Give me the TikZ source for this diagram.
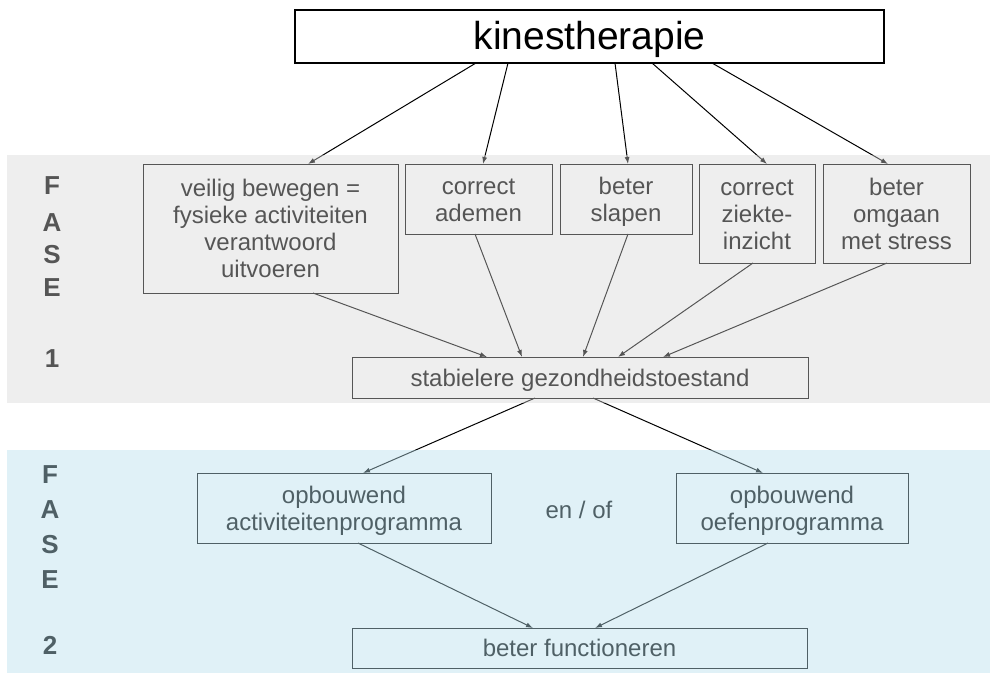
\documentclass[tikz,border=0pt]{standalone}
\usepackage{fontspec}
\setmainfont{Liberation Sans}
\usetikzlibrary{arrows.meta}
\definecolor{bandone}{rgb}{0.84,0.84,0.84}
\definecolor{bandtwo}{rgb}{0.72,0.88,0.93}
\newcommand\myst{\rule[-5pt]{0pt}{27pt}}
\newcommand\mybigst{\rule[-4pt]{0pt}{38pt}}
\begin{document}
\begin{tikzpicture}[x=1pt,y=-1pt,
  box/.style={draw=black, line width=0.9pt, inner sep=0pt, outer sep=0pt, align=center,
    font=\fontsize{24}{27}\selectfont},
  fase/.style={font=\fontsize{26}{26}\selectfont\bfseries, inner sep=0pt},
  arr/.style={draw=black, line width=1pt, -{Latex[length=7pt,width=5pt]}},
  bandonefill/.style={fill=bandone, fill opacity=0.40, draw=none},
  bandtwofill/.style={fill=bandtwo, fill opacity=0.43, draw=none}]
\useasboundingbox (0,0) rectangle (990,677);
\fill[white] (0,0) rectangle (990,677);

% top box
\node[box, line width=1.2pt, minimum width=589, minimum height=53,
  font=\fontsize{39}{40}\selectfont] (kin) at (589.5,36.5) {\mybigst kinestherapie};

% phase 1 boxes
\node[box, minimum width=255, minimum height=129] (veilig) at (270.5,228.5)
  {\myst veilig bewegen =\\fysieke activiteiten\\verantwoord\\uitvoeren\myst};
\node[box, minimum width=147, minimum height=70] (ademen) at (478.5,199) {\myst correct\\ademen\myst};
\node[box, minimum width=132, minimum height=70] (slapen) at (626,199) {\myst beter\\slapen\myst};
\node[box, minimum width=116, minimum height=99] (ziekte) at (757,213.5) {\myst correct\\ziekte-\\inzicht\myst};
\node[box, minimum width=147, minimum height=99] (omgaan) at (896.5,213.5) {\myst beter\\omgaan\\met stress\myst};
\node[box, minimum width=456, minimum height=41] (stab) at (580,377.5) {\myst stabielere gezondheidstoestand};

% phase 2 boxes
\node[box, minimum width=294, minimum height=70] (act) at (344,508) {\myst opbouwend\\activiteitenprogramma\myst};
\node[box, minimum width=232, minimum height=70] (oef) at (792,508) {\myst opbouwend\\oefenprogramma\myst};
\node[font=\fontsize{24}{27}\selectfont, inner sep=0pt] (enof) at (579,510) {\myst en / of};
\node[box, minimum width=455, minimum height=40] (func) at (579.5,648) {\myst beter functioneren};

% FASE labels
\node[fase] (f1) at (52,186) {F};
\node[fase] (a1) at (52,223) {A};
\node[fase] (s1) at (52,255) {S};
\node[fase] (e1) at (52,288) {E};
\node[fase] (n1) at (52,359) {1};
\node[fase] (f2) at (50,475) {F};
\node[fase] (a2) at (50,510) {A};
\node[fase] (s2) at (50,545) {S};
\node[fase] (e2) at (50,580) {E};
\node[fase] (n2) at (50,645) {2};

% arrows from kinestherapie
\draw[arr] ([xshift=-113.5]kin.south) -- ([xshift=37.5]veilig.north);
\draw[arr] ([xshift=-81.5]kin.south) -- ([xshift=4.5]ademen.north);
\draw[arr] ([xshift=25.5]kin.south) -- ([xshift=2]slapen.north);
\draw[arr] ([xshift=62.5]kin.south) -- ([xshift=10]ziekte.north);
\draw[arr] ([xshift=122.5]kin.south) -- ([xshift=-8.5]omgaan.north);

% arrows into stabielere
\draw[arr] ([xshift=42.5]veilig.south) -- ([xshift=-93]stab.north);
\draw[arr] ([xshift=-3.5]ademen.south) -- ([xshift=-58]stab.north);
\draw[arr] ([xshift=2]slapen.south) -- ([xshift=3]stab.north);
\draw[arr] ([xshift=-4]ziekte.south) -- ([xshift=38]stab.north);
\draw[arr] ([xshift=-9.5]omgaan.south) -- ([xshift=83]stab.north);

% phase 2 arrows
\draw[arr] ([xshift=-45]stab.south) -- ([xshift=19]act.north);
\draw[arr] ([xshift=13]stab.south) -- ([xshift=-29]oef.north);
\draw[arr] ([xshift=14]act.south) -- ([xshift=-46.5]func.north);
\draw[arr] ([xshift=-24]oef.south) -- ([xshift=15.5]func.north);

% translucent bands
\fill[bandonefill] (7,155) rectangle (990,403);
\fill[bandtwofill] (7,450) rectangle (990,673);
\end{tikzpicture}
\end{document}
